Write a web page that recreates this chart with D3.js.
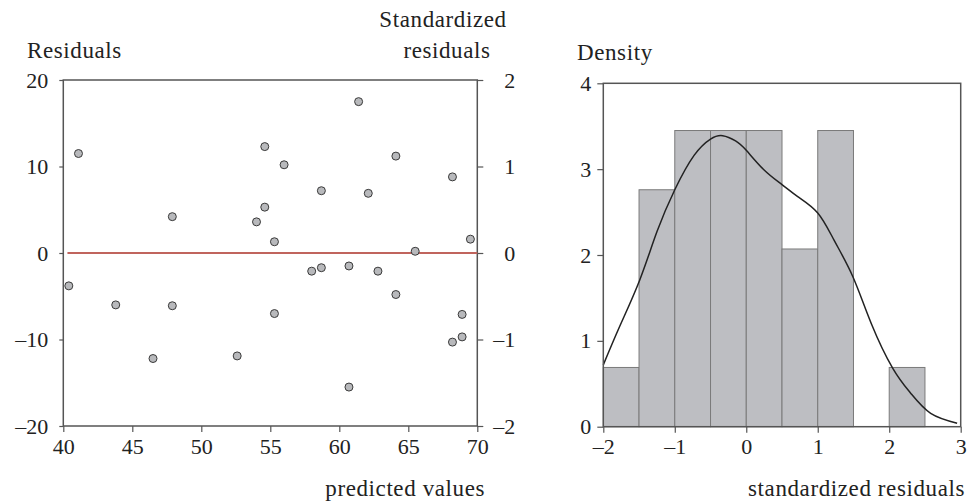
<!DOCTYPE html>
<html>
<head>
<meta charset="utf-8">
<script src="https://cdn.jsdelivr.net/npm/d3@7"></script>
<style>
  body { margin: 0; background: #fff; }
  text { font-family: "Liberation Serif", "DejaVu Serif", serif; fill: #222; }
  .label { font-size: 23px; letter-spacing: 0.6px; }
</style>
</head>
<body>
<div id="chart"></div>
<script>
// residuals vs predicted values
var predicted = [41.1, 47.9, 54.0, 54.6, 54.6, 55.3, 56.0, 58.7, 61.4, 62.1, 64.1, 65.5, 68.2, 69.5,
                 40.4, 43.8, 46.5, 47.9, 52.6, 55.3, 58.0, 58.7, 60.7, 60.7, 62.8, 64.1, 68.2, 68.9, 68.9];
var residuals = [11.5, 4.2, 3.6, 12.3, 5.3, 1.3, 10.2, 7.2, 17.5, 6.9, 11.2, 0.2, 8.8, 1.6,
                 -3.8, -6.0, -12.2, -6.1, -11.9, -7.0, -2.1, -1.7, -1.5, -15.5, -2.1, -4.8, -10.3, -9.7, -7.1];
var zeroLine = [40.3, 70];

// histogram of standardized residuals
var binStart = [-2, -1.5, -1, -0.5, 0, 0.5, 1, 1.5, 2];
var binDensity = [0.69, 2.76, 3.45, 3.45, 3.45, 2.07, 3.45, 0, 0.69];
var binWidth = 0.5;

// density curve
var curveX = [-2, -1.77, -1.49, -1.25, -1.0, -0.73, -0.5, -0.33, -0.15, 0, 0.25, 0.5, 0.72, 1.0, 1.23, 1.49, 1.75, 2.05, 2.3, 2.58, 2.95];
var curveY = [0.72, 1.17, 1.71, 2.27, 2.76, 3.16, 3.35, 3.39, 3.33, 3.22, 2.99, 2.82, 2.68, 2.49, 2.17, 1.75, 1.20, 0.68, 0.39, 0.155, 0.04];

var xTicksL = [40, 45, 50, 55, 60, 65, 70];
var yTicksL = [-20, -10, 0, 10, 20];
var yTicksR = [-2, -1, 0, 1, 2];
var xTicksH = [-2, -1, 0, 1, 2, 3];
var yTicksH = [0, 1, 2, 3, 4];

var svg = d3.select("#chart").append("svg")
    .attr("width", 969)
    .attr("height", 503);

var frameColor = "#555";
var fs = "22px";

// ---- left panel: scatter ----
var x = d3.scaleLinear().domain([40, 70]).range([63.3, 477.3]);
var y = d3.scaleLinear().domain([-20, 20]).range([426, 80]);
var y2 = d3.scaleLinear().domain([-2, 2]).range([426, 80]);

var left = svg.append("g");

left.append("rect")
    .attr("x", x(40)).attr("y", y(20))
    .attr("width", x(70) - x(40)).attr("height", y(-20) - y(20))
    .attr("fill", "none").attr("stroke", frameColor).attr("stroke-width", 1.5);

function styleAxis(g) {
    g.select(".domain").remove();
    g.selectAll(".tick line").attr("stroke", frameColor).attr("stroke-width", 1.2);
    g.selectAll(".tick text").style("font-size", fs).style("font-family", "Liberation Serif").attr("fill", "#222");
}

var fmt = function(d) { return d < 0 ? "\u2013" + Math.abs(d) : d; };

left.append("g")
    .attr("transform", "translate(0," + y(-20) + ")")
    .call(d3.axisBottom(x).tickValues(xTicksL).tickSize(6).tickPadding(6).tickFormat(fmt))
    .call(styleAxis);

left.append("g")
    .attr("transform", "translate(" + x(40) + ",0)")
    .call(d3.axisLeft(y).tickValues(yTicksL).tickSize(4).tickPadding(11).tickFormat(fmt))
    .call(styleAxis);

left.append("g")
    .attr("transform", "translate(" + x(70) + ",0)")
    .call(d3.axisRight(y2).tickValues(yTicksR).tickSize(6).tickPadding(6).tickFormat(fmt))
    .call(styleAxis)
    .selectAll(".tick text").attr("text-anchor", "end").attr("x", 38);

left.append("path")
    .datum(zeroLine)
    .attr("d", d3.line().x(function(d) { return x(d); }).y(y(0)))
    .attr("stroke", "#c0645d").attr("stroke-width", 1.8).attr("fill", "none");

left.selectAll(".dot")
    .data(predicted)
    .enter().append("circle")
    .attr("class", "dot")
    .attr("cx", function(d) { return x(d); })
    .attr("cy", function(d, i) { return y(residuals[i]); })
    .attr("r", 4)
    .attr("fill", "#b8b9bc")
    .attr("stroke", "#3a3a3a")
    .attr("stroke-width", 1);

left.append("text").attr("class", "label").attr("x", 27).attr("y", 58).text("Residuals");
left.append("text").attr("class", "label").attr("x", 443).attr("y", 27).attr("text-anchor", "middle").text("Standardized");
left.append("text").attr("class", "label").attr("x", 447).attr("y", 58).attr("text-anchor", "middle").text("residuals");
left.append("text").attr("class", "label").attr("x", 485).attr("y", 496).attr("text-anchor", "end").text("predicted values");

// ---- right panel: histogram ----
var xh = d3.scaleLinear().domain([-2, 3]).range([603.3, 960.7]);
var yh = d3.scaleLinear().domain([0, 4]).range([426.7, 83.3]);

var right = svg.append("g");

right.selectAll(".bar")
    .data(binStart)
    .enter().append("rect")
    .attr("class", "bar")
    .attr("x", function(d) { return xh(d); })
    .attr("width", function(d) { return xh(d + binWidth) - xh(d); })
    .attr("y", function(d, i) { return yh(binDensity[i]); })
    .attr("height", function(d, i) { return yh(0) - yh(binDensity[i]); })
    .attr("fill", "#bdbec2")
    .attr("stroke", "#7a7a7a")
    .attr("stroke-width", 1)
    .style("display", function(d, i) { return binDensity[i] > 0 ? null : "none"; });

right.append("path")
    .datum(curveX)
    .attr("d", d3.line()
        .x(function(d) { return xh(d); })
        .y(function(d, i) { return yh(curveY[i]); })
        .curve(d3.curveNatural))
    .attr("fill", "none").attr("stroke", "#222").attr("stroke-width", 1.5);

right.append("rect")
    .attr("x", xh(-2)).attr("y", yh(4))
    .attr("width", xh(3) - xh(-2)).attr("height", yh(0) - yh(4))
    .attr("fill", "none").attr("stroke", frameColor).attr("stroke-width", 1.5);

right.append("g")
    .attr("transform", "translate(0," + yh(0) + ")")
    .call(d3.axisBottom(xh).tickValues(xTicksH).tickSize(6).tickPadding(6).tickFormat(fmt))
    .call(styleAxis);

right.append("g")
    .attr("transform", "translate(" + xh(-2) + ",0)")
    .call(d3.axisLeft(yh).tickValues(yTicksH).tickSize(6).tickPadding(6).tickFormat(fmt))
    .call(styleAxis);

right.append("text").attr("class", "label").attr("x", 577).attr("y", 60).text("Density");
right.append("text").attr("class", "label").attr("x", 965).attr("y", 496).attr("text-anchor", "end").text("standardized residuals");
</script>
</body>
</html>
